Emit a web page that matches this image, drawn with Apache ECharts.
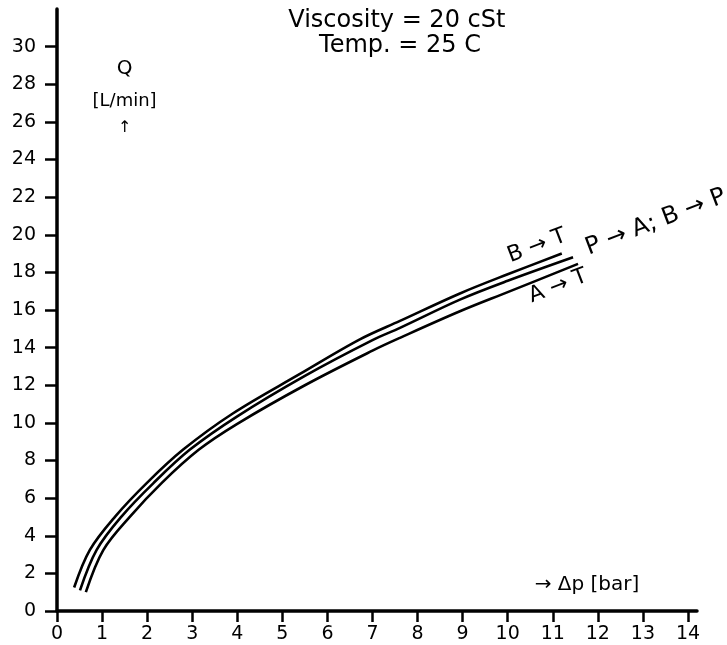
<!DOCTYPE html>
<html>
<head>
<meta charset="utf-8">
<script src="https://cdn.jsdelivr.net/npm/echarts@6/dist/echarts.min.js"></script>
<style>
  html, body { margin: 0; padding: 0; background: #fff; }
  #chart { width: 727px; height: 645px; }
</style>
</head>
<body>
<div id="chart"></div>
<script>
// tick labels
var xTicks = [0, 1, 2, 3, 4, 5, 6, 7, 8, 9, 10, 11, 12, 13, 14];
var yTicks = [0, 2, 4, 6, 8, 10, 12, 14, 16, 18, 20, 22, 24, 26, 28, 30];

// curve B -> T (upper)
var btP = [0.38, 0.73, 1.29, 1.99, 2.8, 3.9, 5.39, 6.72, 7.61, 8.94, 10, 11.2];
var btQ = [1.25, 3.25, 5.02, 6.8, 8.58, 10.5, 12.6, 14.44, 15.42, 16.88, 17.9, 19.0];

// curve P -> A; B -> P (middle)
var pabpP = [0.51, 0.88, 1.43, 2.14, 2.95, 4, 5.5, 7, 7.61, 8.94, 10, 11.45];
var pabpQ = [1.1, 3.25, 5.02, 6.8, 8.58, 10.35, 12.5, 14.4, 15.05, 16.55, 17.55, 18.8];

// curve A -> T (lower)
var atP = [0.64, 1.03, 1.62, 2.32, 3.15, 4, 5.5, 7, 7.61, 8.94, 10, 11.56];
var atQ = [1.0, 3.25, 5.02, 6.8, 8.58, 9.95, 12.0, 13.84, 14.52, 15.93, 16.95, 18.45];

function pairs(xs, ys) {
  return xs.map(function (x, i) { return [x, ys[i]]; });
}

var font = 'DejaVu Sans';
var myChart = echarts.init(document.getElementById('chart'));

function curve(name, xs, ys) {
  return {
    name: name,
    type: 'line',
    smooth: 0.35,
    showSymbol: false,
    silent: true,
    lineStyle: { color: '#000', width: 2.6 },
    data: pairs(xs, ys)
  };
}

var opt = {
  backgroundColor: '#fff',
  animation: false,
  grid: { left: 57, right: 30, top: 9, bottom: 34 },
  xAxis: {
    type: 'value',
    min: 0,
    max: 14.2,
    splitLine: { show: false },
    axisLine: { onZero: false, lineStyle: { color: '#000', width: 3.5 } },
    axisTick: { customValues: xTicks, length: 11, lineStyle: { color: '#000', width: 2.5 } },
    axisLabel: { customValues: xTicks, color: '#000', fontFamily: font, fontSize: 19, margin: 14 }
  },
  yAxis: {
    type: 'value',
    min: 0,
    max: 32,
    splitLine: { show: false },
    axisLine: { show: true, onZero: false, lineStyle: { color: '#000', width: 3.5 } },
    axisTick: { show: true, customValues: yTicks, length: 12, lineStyle: { color: '#000', width: 2.5 } },
    axisLabel: { customValues: yTicks, color: '#000', fontFamily: font, fontSize: 19, margin: 21 }
  },
  series: [
    curve('B → T', btP, btQ),
    curve('P → A; B → P', pabpP, pabpQ),
    curve('A → T', atP, atQ)
  ]
};
myChart.setOption(opt);

// texts placed in data coordinates
function px(p, q) { return myChart.convertToPixel({ gridIndex: 0 }, [p, q]); }
var ang = 21 * Math.PI / 180;
function txt(p, q, s, size, align, rot) {
  var pt = px(p, q);
  return {
    type: 'text',
    x: pt[0], y: pt[1],
    rotation: rot || 0,
    silent: true,
    style: {
      text: s, fill: '#000', font: size + 'px "' + font + '"',
      align: align || 'center', verticalAlign: 'middle'
    }
  };
}
myChart.setOption({
  graphic: [
    txt(7.54, 31.35, 'Viscosity = 20 cSt', 24),
    txt(7.61, 30.05, 'Temp. = 25 C', 24),
    txt(1.5, 28.8, 'Q', 20),
    txt(1.5, 27.1, '[L/min]', 18),
    txt(1.5, 25.7, '↑', 16),
    txt(11.76, 1.39, '→ Δp [bar]', 20),
    txt(10.65, 19.4, 'B → T', 22, 'center', ang),
    txt(11.12, 17.26, 'A → T', 22, 'center', ang),
    txt(11.75, 19.25, 'P → A; B → P', 24, 'left', ang)
  ]
});
</script>
</body>
</html>
